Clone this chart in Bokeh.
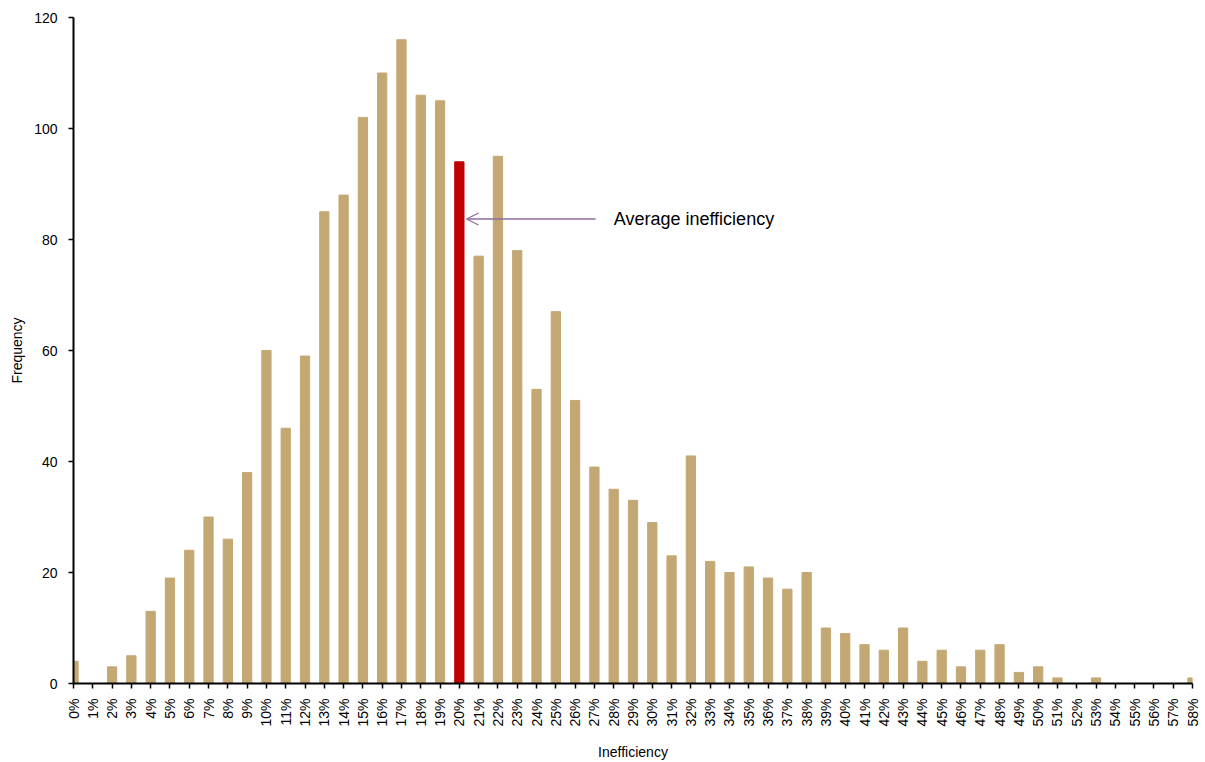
from math import pi
from bokeh.plotting import figure
from bokeh.models import Range1d, FixedTicker, Arrow, OpenHead, Label, ColumnDataSource
from bokeh.embed import file_html
from bokeh.resources import INLINE

# ---- data ----
categories = [f"{i}%" for i in range(59)]
frequency = [4, 0, 3, 5, 13, 19, 24, 30, 26, 38,
             60, 46, 59, 85, 88, 102, 110, 116, 106, 105,
             94, 77, 95, 78, 53, 67, 51, 39, 35, 33,
             29, 23, 41, 22, 20, 21, 19, 17, 20, 10,
             9, 7, 6, 10, 4, 6, 3, 6, 7, 2,
             3, 1, 0, 1, 0, 0, 0, 0, 1]
highlight_category = "20%"
y_ticks = [0, 20, 40, 60, 80, 100, 120]
annotation_text = "Average inefficiency"
annotation_value = 83.7        # frequency level of the arrow
arrow_tail = 27.06             # category position where the arrow starts
arrow_head = 20.37             # category position where the arrow points
text_pos = 28.0                # category position of the annotation text

BAR = "#C4A874"
RED = "#C00000"
FONT = "Liberation Sans"

positions = list(range(len(categories)))
colors = [RED if c == highlight_category else BAR for c in categories]
src = ColumnDataSource(dict(x=positions, top=frequency, color=colors, cat=categories))

p = figure(frame_width=1119, frame_height=666, output_backend="svg", toolbar_location=None,
           x_range=Range1d(0, len(categories) - 1), y_range=Range1d(0, 120),
           min_border_left=73, min_border_right=8, min_border_top=17, min_border_bottom=77)
p.outline_line_color = None
p.xgrid.visible = False
p.ygrid.visible = False
p.background_fill_color = "white"
p.border_fill_color = "white"

p.vbar(x="x", top="top", width=0.48, color="color", source=src)

# annotation
p.add_layout(Arrow(end=OpenHead(size=12, line_color="#8E6C9E", line_width=1.3),
                   x_start=arrow_tail, y_start=annotation_value,
                   x_end=arrow_head, y_end=annotation_value,
                   line_color="#8E6C9E", line_width=1.5))
p.add_layout(Label(x=text_pos, y=annotation_value, text=annotation_text,
                   text_font=FONT, text_font_size="18px", text_baseline="middle",
                   text_align="left", text_color="black"))

# axes
xa = p.xaxis[0]
xa.ticker = FixedTicker(ticks=positions)
xa.major_label_overrides = {i: c for i, c in zip(positions, categories)}
xa.major_label_orientation = pi / 2
xa.minor_tick_line_color = None
xa.axis_label = "Inefficiency"

ya = p.yaxis[0]
ya.ticker = FixedTicker(ticks=y_ticks)
ya.minor_tick_line_color = None
ya.axis_label = "Frequency"

for ax in (xa, ya):
    ax.axis_line_color = "black"
    ax.axis_line_width = 2
    ax.major_tick_line_color = "black"
    ax.major_tick_line_width = 1.5
    ax.major_tick_out = 5
    ax.major_tick_in = 0
    ax.major_label_text_font = FONT
    ax.major_label_text_font_size = "14px"
    ax.major_label_text_color = "black"
    ax.axis_label_text_font = FONT
    ax.axis_label_text_font_size = "14px"
    ax.axis_label_text_font_style = "normal"
    ax.axis_label_text_color = "black"

xa.major_label_standoff = 10
ya.major_label_standoff = 11
xa.axis_label_standoff = 14
ya.axis_label_standoff = 6

open("out.html", "w").write(file_html(p, INLINE))
